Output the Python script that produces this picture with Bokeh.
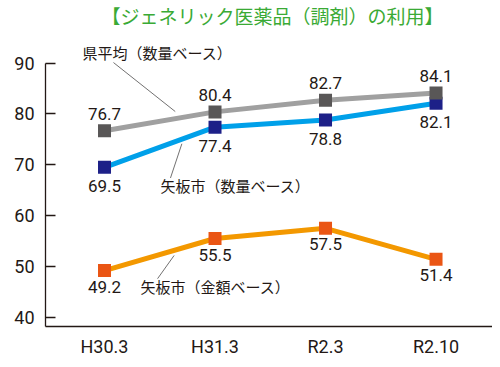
from bokeh.plotting import figure
from bokeh.models import Range1d, FixedTicker, Label
from bokeh.core.properties import value
from bokeh.embed import file_html
from bokeh.resources import INLINE

categories = ["H30.3", "H31.3", "R2.3", "R2.10"]
pref_qty = [76.7, 80.4, 82.7, 84.1]
city_qty = [69.5, 77.4, 78.8, 82.1]
city_amt = [49.2, 55.5, 57.5, 51.4]
y_ticks = [40, 50, 60, 70, 80, 90]

title_text = "【ジェネリック医薬品（調剤）の利用】"
name_pref = "県平均（数量ベース）"
name_city_qty = "矢板市（数量ベース）"
name_city_amt = "矢板市（金額ベース）"

JP = "Noto Sans CJK JP"
NUM = "Roboto"
DARK = "#231815"

xs = list(range(len(categories)))

p = figure(width=492, height=359, output_backend="svg", toolbar_location=None,
           x_range=Range1d(-0.534, 3.511), y_range=Range1d(38.2, 102.3),
           min_border_left=45, min_border_right=0, min_border_top=0,
           min_border_bottom=28)
p.outline_line_color = None
p.xgrid.visible = False
p.ygrid.visible = False
p.background_fill_color = "white"
p.border_fill_color = "white"

# axes
ya = p.yaxis[0]
ya.ticker = FixedTicker(ticks=y_ticks)
ya.bounds = (38.2, 90)
ya.major_tick_in = 10
ya.major_tick_out = 0
ya.minor_tick_line_color = None
ya.axis_line_color = DARK
ya.axis_line_width = 1.3
ya.major_tick_line_color = DARK
ya.major_tick_line_width = 1.3
ya.major_label_text_font = NUM
ya.major_label_text_font_size = "18px"
ya.major_label_text_color = DARK
ya.major_label_standoff = 11

xa = p.xaxis[0]
xa.ticker = FixedTicker(ticks=xs)
xa.major_label_overrides = {i: c for i, c in zip(xs, categories)}
xa.major_tick_in = 0
xa.major_tick_out = 0
xa.minor_tick_line_color = None
xa.axis_line_color = DARK
xa.axis_line_width = 1.3
xa.major_label_text_font = NUM
xa.major_label_text_font_size = "18px"
xa.major_label_text_font_style = "normal"
xa.major_label_text_color = DARK
xa.major_label_standoff = 9

# lines
p.line(xs, city_amt, line_color="#f39800", line_width=5)
p.line(xs, city_qty, line_color="#00a0e9", line_width=5)
p.line(xs, pref_qty, line_color="#a0a0a0", line_width=5)

# markers
p.scatter(xs, city_amt, marker="square", size=13, fill_color="#ea5514", line_color=None)
p.scatter(xs, city_qty, marker="square", size=13, fill_color="#1d2088", line_color=None)
p.scatter(xs, pref_qty, marker="square", size=13, fill_color="#595757", line_color=None)

# value labels
def vlabels(vals, off):
    p.text(xs, vals, text=[f"{v:.1f}" for v in vals], y_offset=off,
           text_align="center", text_baseline="middle",
           text_font=value(NUM), text_font_size="17px", text_color=DARK)

vlabels(pref_qty, -17)
vlabels(city_qty, 19)
vlabels(city_amt, 16)

# leader lines (end points derived from data along the first segment)
def interp(vals, t):
    return vals[0] + (vals[1] - vals[0]) * t

t_g = 0.64
p.segment(x0=[0.081], y0=[90.1], x1=[t_g], y1=[interp(pref_qty, t_g) + 1.4],
          line_color="#727171", line_width=1)
t_b = 0.70
p.segment(x0=[0.597], y0=[67.4], x1=[t_b], y1=[interp(city_qty, t_b) - 0.9],
          line_color="#727171", line_width=1)
t_o = 0.63
p.segment(x0=[0.48], y0=[47.6], x1=[t_o], y1=[interp(city_amt, t_o) - 1.0],
          line_color="#727171", line_width=1)

# series name annotations
p.text([-0.199], [92.0], text=[name_pref], text_align="left", text_baseline="middle",
       text_font=value(JP), text_font_size="15px", text_color=DARK)
p.text([0.507], [65.9], text=[name_city_qty], text_align="left", text_baseline="middle",
       text_font=value(JP), text_font_size="15px", text_color=DARK)
p.text([0.326], [46.1], text=[name_city_amt], text_align="left", text_baseline="middle",
       text_font=value(JP), text_font_size="15px", text_color=DARK)

# title
p.text([1.52], [99.4], text=[title_text], text_align="center", text_baseline="middle",
       text_font=value(JP), text_font_size="19px", text_color="#3aaa35")

# unit label
p.add_layout(Label(x=-0.756, y=93.6, text="(%)", text_align="center",
                   text_baseline="middle", text_font=JP, text_font_size="13px",
                   text_color=DARK))

open("out.html", "w").write(file_html(p, INLINE))
